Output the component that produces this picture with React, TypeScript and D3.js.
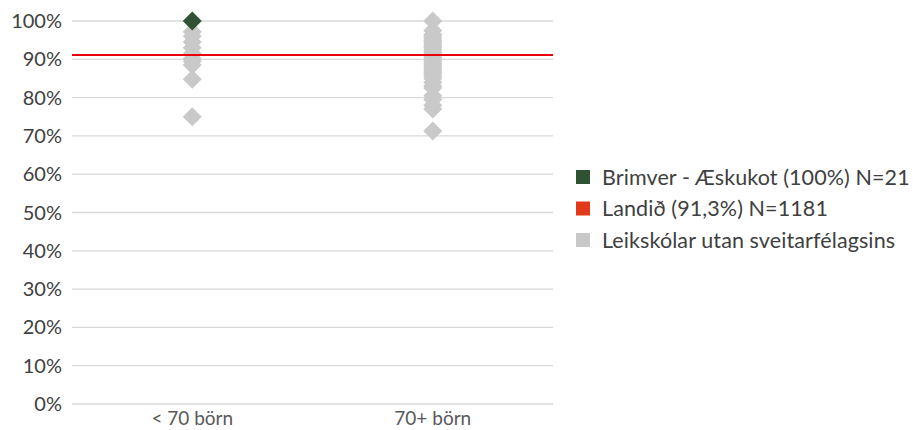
import React from "react";
import * as d3 from "d3";

const categories = ["< 70 börn", "70+ börn"];
const yTicks = [0, 10, 20, 30, 40, 50, 60, 70, 80, 90, 100];
const greySmall = [97.2, 96, 94.5, 93, 91.5, 90.2, 89.5, 88.5, 84.8, 75];
const greyLarge = [100, 97.5, 96.5, 96, 95.5, 95, 94.5, 94, 93.5, 93, 92.5, 92, 91.5, 91, 90.5, 90, 89.5, 89, 88.5, 88, 87.5, 87, 86.5, 86, 85.5, 85, 84, 83, 82.5, 80.5, 79.5, 78, 77, 71.3];
const highlightCategory = "< 70 börn";
const highlightValue = 100;
const nationalValue = 91.3;
const legendLabels = ["Brimver - Æskukot (100%) N=21", "Landið (91,3%) N=1181", "Leikskólar utan sveitarfélagsins"];

const W = 915, H = 430;
const margin = { left: 72, right: 362, top: 21, bottom: 26 };

export default function App() {
  const x = d3.scaleBand().domain(categories).range([margin.left, W - margin.right]);
  const y = d3.scaleLinear().domain([0, 100]).range([H - margin.bottom, margin.top]);
  const sym = d3.symbol().type(d3.symbolDiamond2).size(230)();
  const greyPts = [
    ...greySmall.map((v) => ({ c: categories[0], v })),
    ...greyLarge.map((v) => ({ c: categories[1], v })),
  ];
  const cx = (c: string) => (x(c) as number) + x.bandwidth() / 2;
  const font = "Lato, 'Noto Sans', sans-serif";
  const legendColors = ["#2F5233", "#E03A1A", "#C8C8C8"];
  return (
    <svg width={W} height={H} style={{ position: "absolute", left: 0, top: 0 }} fontFamily={font}>
      <rect width={W} height={H} fill="#fff" />
      {yTicks.map((t) => (
        <g key={t}>
          <line x1={margin.left} x2={W - margin.right} y1={y(t)} y2={y(t)} stroke="#D9D9D9" strokeWidth={1.3} />
          <text x={62} y={y(t)} dy="0.35em" textAnchor="end" fontSize={20} fill="#404040">{t}%</text>
        </g>
      ))}
      {categories.map((c) => (
        <text key={c} x={cx(c)} y={H - 5} textAnchor="middle" fontSize={19} fill="#595959">{c}</text>
      ))}
      {greyPts.map((p, i) => (
        <path key={i} d={sym} transform={`translate(${cx(p.c)},${y(p.v)})`} fill="#C9C9C9" />
      ))}
      <line x1={margin.left} x2={W - margin.right} y1={y(nationalValue) + 0.8} y2={y(nationalValue) + 0.8} stroke="#E8000B" strokeWidth={2} />
      <path d={sym} transform={`translate(${cx(highlightCategory)},${y(highlightValue)})`} fill="#2F5233" />
      {legendLabels.map((l, i) => (
        <g key={l} transform={`translate(576,${177 + i * 31.5})`}>
          <rect x={0} y={-7} width={14} height={14} fill={legendColors[i]} />
          <text x={26} y={0} dy="0.35em" fontSize={21.5} letterSpacing={0.1} fill="#404040">{l}</text>
        </g>
      ))}
    </svg>
  );
}
